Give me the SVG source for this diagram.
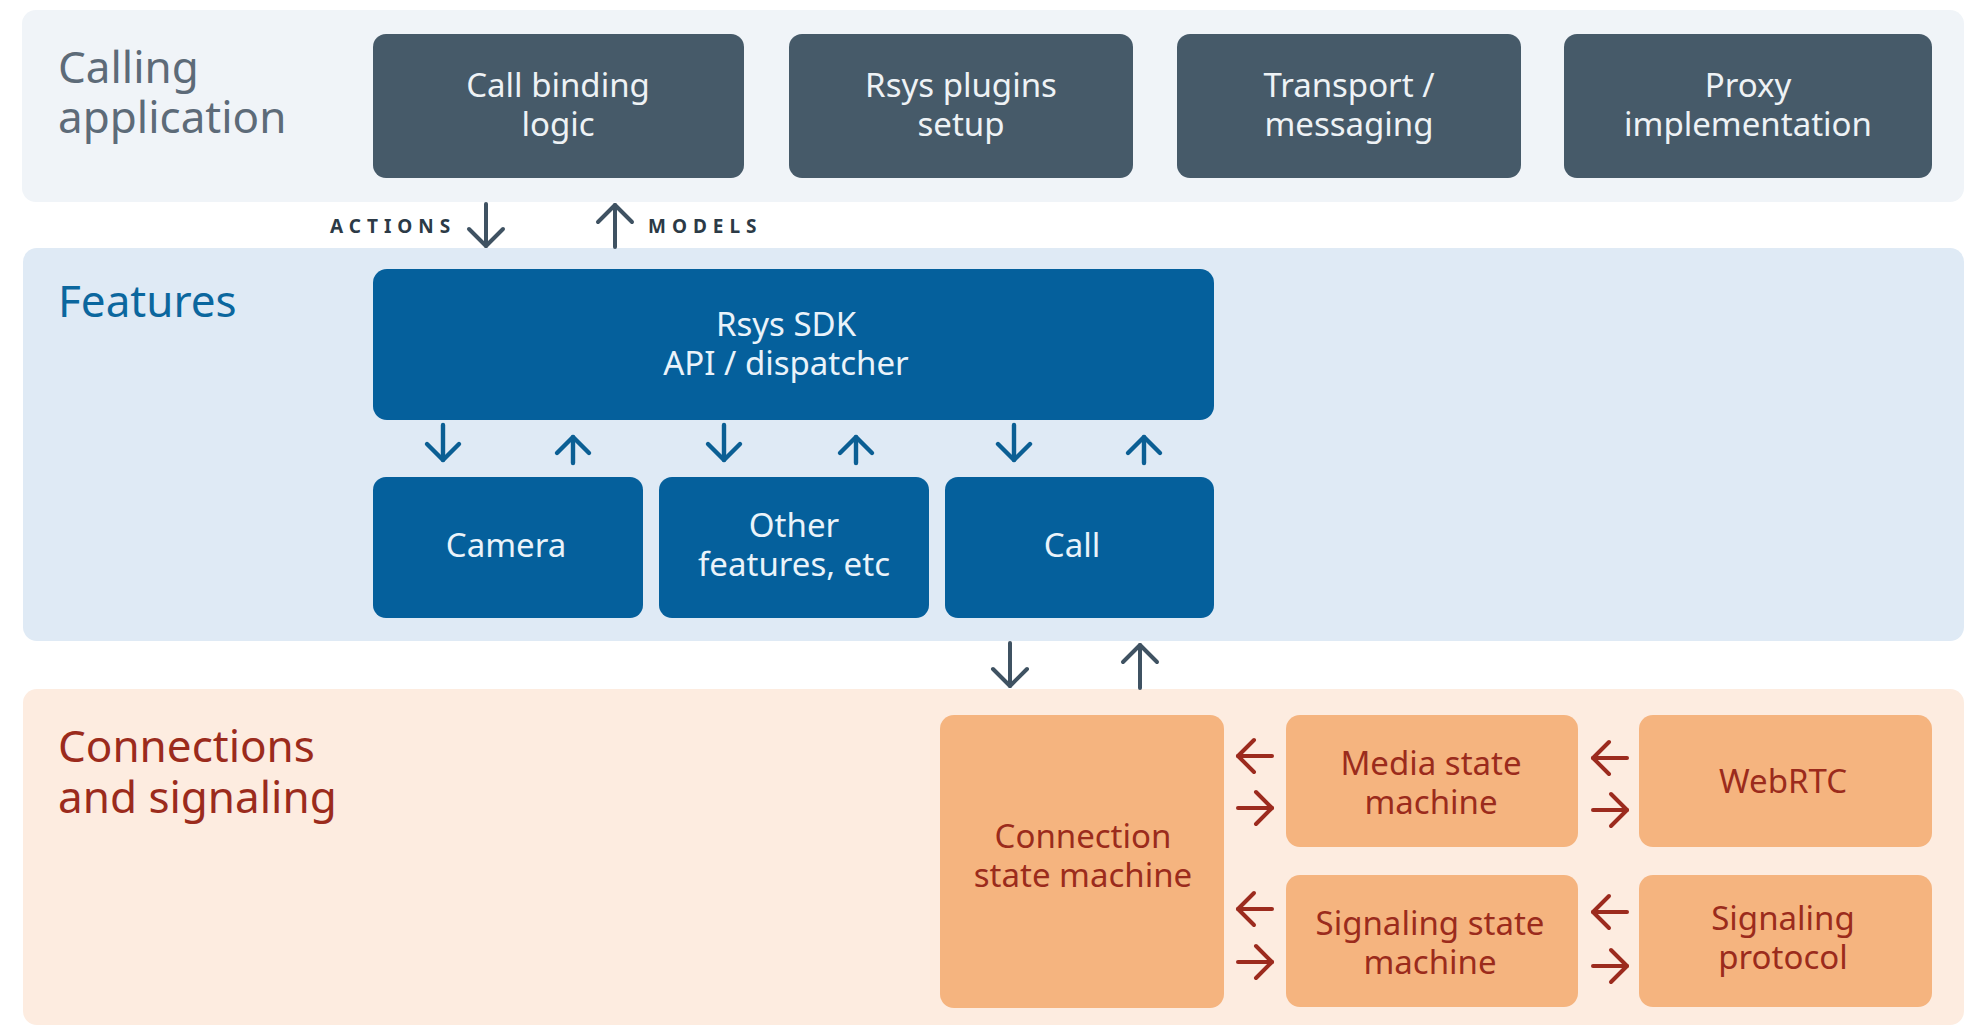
<svg xmlns="http://www.w3.org/2000/svg" width="1974" height="1025" viewBox="0 0 1974 1025">
<defs>
<marker id="hs" viewBox="0 0 40 40" refX="36" refY="20" markerWidth="40" markerHeight="40" orient="auto" markerUnits="userSpaceOnUse"><path d="M19 3 L36 20 L19 37" fill="none" stroke="#3f5262" stroke-width="4" stroke-linecap="round" stroke-linejoin="round"/></marker>
<marker id="hb" viewBox="0 0 40 40" refX="36" refY="20" markerWidth="40" markerHeight="40" orient="auto" markerUnits="userSpaceOnUse"><path d="M20 4 L36 20 L20 36" fill="none" stroke="#0b5f94" stroke-width="4.4" stroke-linecap="round" stroke-linejoin="round"/></marker>
<marker id="hr" viewBox="0 0 40 40" refX="36" refY="20" markerWidth="40" markerHeight="40" orient="auto" markerUnits="userSpaceOnUse"><path d="M20 4 L36 20 L20 36" fill="none" stroke="#9c2b1e" stroke-width="4" stroke-linecap="round" stroke-linejoin="round"/></marker>
</defs>
<style>
text{font-family:"Noto Sans","Open Sans","Liberation Sans",sans-serif;text-anchor:middle}
.title{font-size:44px;text-anchor:start}
.lbl{font-size:33px}
.app rect{fill:#465a69}
.app text{fill:#eef2f5}
.feat rect{fill:#05609c}
.feat text{fill:#eaf3fa}
.conn rect{fill:#f5b47f}
.conn text{fill:#9b2b1c}
.tag{font-size:19px;font-weight:700;letter-spacing:6px;fill:#2c3a46;text-anchor:start}
.s{stroke:#3f5262;stroke-width:4;fill:none;marker-end:url(#hs);stroke-linecap:round}
.b{stroke:#0b5f94;stroke-width:4.4;fill:none;marker-end:url(#hb);stroke-linecap:round}
.r{stroke:#9c2b1e;stroke-width:4;fill:none;marker-end:url(#hr);stroke-linecap:round}
</style>
<rect width="1974" height="1025" fill="#ffffff"/>
<g id="band-calling">
<rect x="22" y="10" width="1942" height="192" rx="14" fill="#f0f4f8"/>
<text class="title" fill="#5d6b78"><tspan x="58" y="83">Calling</tspan><tspan x="58" y="133">application</tspan></text>
</g>
<g id="band-features">
<rect x="23" y="248" width="1941" height="393" rx="14" fill="#dfeaf5"/>
<text class="title" x="58" y="317" fill="#0b679e">Features</text>
</g>
<g id="band-connections">
<rect x="23" y="689" width="1941" height="336" rx="14" fill="#fdece0"/>
<text class="title" fill="#9b2b1c"><tspan x="58" y="762">Connections</tspan><tspan x="58" y="813">and signaling</tspan></text>
</g>
<g id="call-binding" class="app"><rect x="373" y="34" width="371" height="144" rx="13"/><text class="lbl"><tspan x="558" y="97">Call binding</tspan><tspan x="558" y="136">logic</tspan></text></g>
<g id="rsys-plugins" class="app"><rect x="789" y="34" width="344" height="144" rx="13"/><text class="lbl"><tspan x="961" y="97">Rsys plugins</tspan><tspan x="961" y="136">setup</tspan></text></g>
<g id="transport" class="app"><rect x="1177" y="34" width="344" height="144" rx="13"/><text class="lbl"><tspan x="1349" y="97">Transport /</tspan><tspan x="1349" y="136">messaging</tspan></text></g>
<g id="proxy" class="app"><rect x="1564" y="34" width="368" height="144" rx="13"/><text class="lbl"><tspan x="1748" y="97">Proxy</tspan><tspan x="1748" y="136">implementation</tspan></text></g>
<g id="rsys-sdk" class="feat"><rect x="373" y="269" width="841" height="151" rx="14"/><text class="lbl"><tspan x="786" y="336">Rsys SDK</tspan><tspan x="786" y="375">API / dispatcher</tspan></text></g>
<g id="camera" class="feat"><rect x="373" y="477" width="270" height="141" rx="13"/><text class="lbl" x="506" y="557">Camera</text></g>
<g id="other-features" class="feat"><rect x="659" y="477" width="270" height="141" rx="13"/><text class="lbl"><tspan x="794" y="537">Other</tspan><tspan x="794" y="576">features, etc</tspan></text></g>
<g id="call" class="feat"><rect x="945" y="477" width="269" height="141" rx="13"/><text class="lbl" x="1072" y="557">Call</text></g>
<g id="connection-sm" class="conn"><rect x="940" y="715" width="284" height="293" rx="14"/><text class="lbl"><tspan x="1083" y="848">Connection</tspan><tspan x="1083" y="887">state machine</tspan></text></g>
<g id="media-sm" class="conn"><rect x="1286" y="715" width="292" height="132" rx="14"/><text class="lbl"><tspan x="1431" y="775">Media state</tspan><tspan x="1431" y="814">machine</tspan></text></g>
<g id="webrtc" class="conn"><rect x="1639" y="715" width="293" height="132" rx="14"/><text class="lbl" x="1783" y="793">WebRTC</text></g>
<g id="signaling-sm" class="conn"><rect x="1286" y="875" width="292" height="132" rx="14"/><text class="lbl"><tspan x="1430" y="935">Signaling state</tspan><tspan x="1430" y="974">machine</tspan></text></g>
<g id="signaling-protocol" class="conn"><rect x="1639" y="875" width="293" height="132" rx="14"/><text class="lbl"><tspan x="1783" y="930">Signaling</tspan><tspan x="1783" y="969">protocol</tspan></text></g>
<g id="connectors">
<text class="tag" x="330" y="233">ACTIONS</text>
<text class="tag" x="648" y="233">MODELS</text>
<path class="s" d="M486 204 V246"/>
<path class="s" d="M615 247 V205"/>
<path class="b" d="M443 425 V460"/>
<path class="b" d="M573 463 V437"/>
<path class="b" d="M724 425 V460"/>
<path class="b" d="M856 463 V437"/>
<path class="b" d="M1014 425 V460"/>
<path class="b" d="M1144 463 V437"/>
<path class="s" d="M1010 643 V686"/>
<path class="s" d="M1140 688 V645"/>
<path class="r" d="M1272 756 H1238"/>
<path class="r" d="M1238 808 H1272"/>
<path class="r" d="M1272 909 H1238"/>
<path class="r" d="M1238 962 H1272"/>
<path class="r" d="M1627 758 H1593"/>
<path class="r" d="M1593 810 H1627"/>
<path class="r" d="M1627 912 H1593"/>
<path class="r" d="M1593 966 H1627"/>
</g>
</svg>
